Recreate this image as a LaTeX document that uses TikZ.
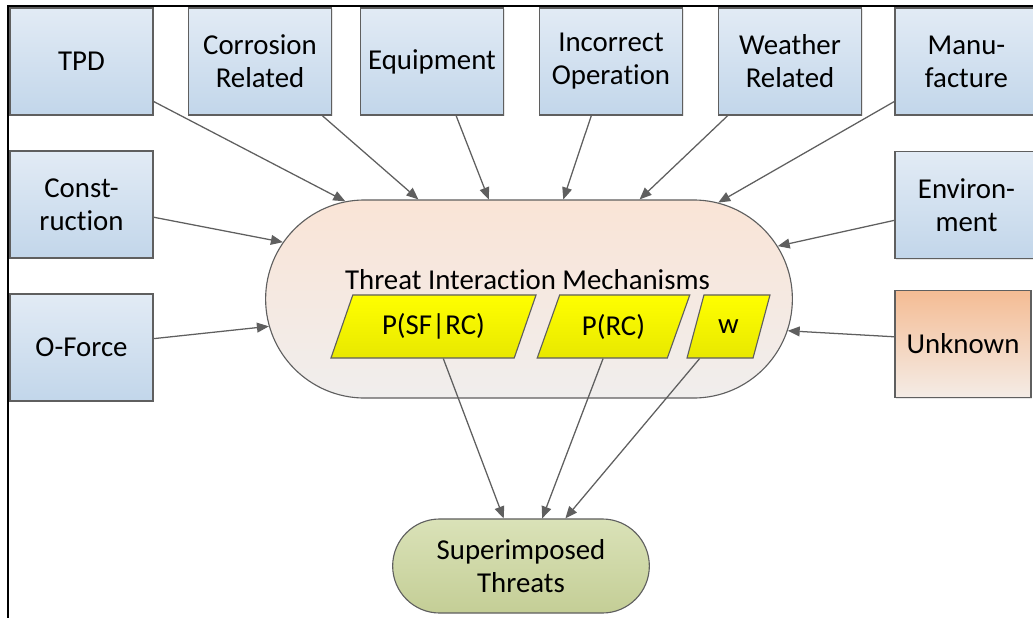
\documentclass[tikz,border=0pt]{standalone}
\usepackage{fontspec}
\setmainfont{Carlito}[Ligatures=NoCommon]
\usetikzlibrary{shapes.geometric,shapes.misc,arrows.meta,shadows}

\definecolor{boxtop}{RGB}{226,235,245}
\definecolor{boxbot}{RGB}{194,214,234}
\definecolor{unktop}{RGB}{244,188,148}
\definecolor{unkbot}{RGB}{244,236,230}
\definecolor{timtop}{RGB}{250,228,214}
\definecolor{timbot}{RGB}{240,238,237}
\definecolor{suptop}{RGB}{218,226,184}
\definecolor{supbot}{RGB}{196,206,150}
\definecolor{yeltop}{RGB}{255,255,0}
\definecolor{yelbot}{RGB}{232,232,0}
\definecolor{edgegray}{RGB}{95,95,95}

\begin{document}
\begin{tikzpicture}[x=0.025cm, y=-0.025cm,
    txt/.style={font=\fontsize{20.5}{23.5}\selectfont, align=center, text=black},
    threat/.style={txt, draw=edgegray, line width=0.8pt, top color=boxtop, bottom color=boxbot,
      minimum width=3.575cm, minimum height=2.675cm, inner sep=0pt,
      drop shadow={opacity=0.2, shadow xshift=0.8pt, shadow yshift=-0.8pt}},
    param/.style={txt, trapezium, trapezium left angle=65, trapezium right angle=115,
      trapezium stretches=true, draw=edgegray, line width=0.8pt, top color=yeltop, bottom color=yelbot,
      minimum height=1.575cm, inner sep=2pt},
    link/.style={draw=edgegray, line width=0.9pt, -{Triangle[length=8.5pt,width=7pt]}}]

		\useasboundingbox (0,0) rectangle (1033,618);
		\clip (0,0) rectangle (1033,618);
		\draw[line width=1.6pt] (8,618) -- (8,6) -- (1040,6);

		% causes, top row
		\node[threat] (tpd) at (81.5,61.5) {TPD};
		\node[threat] (corr) at (260,61.5) {Corrosion\\Related};
		\node[threat] (equip) at (432,61.5) {Equipment};
		\node[threat] (incop) at (611,61.5) {Incorrect\\Operation};
		\node[threat] (weath) at (790,61.5) {Weather\\Related};
		\node[threat] (manuf) at (966.5,61.5) {Manu-\\facture};

		% causes, sides
		\node[threat] (constr) at (81.5,204.5) {Const-\\ruction};
		\node[threat] (oforce) at (81.5,347.5) {O-Force};
		\node[threat] (envir) at (966.5,205) {Environ-\\ment};
		\node[threat, top color=unktop, bottom color=unkbot, minimum width=3.4cm] (unkn) at (963,344) {Unknown};

		% mechanisms
		\node[rounded rectangle, draw=edgegray, line width=0.8pt, top color=timtop, bottom color=timbot,
			minimum width=13.4cm, minimum height=4.95cm] (tim) at (529,299) {};
		\node[txt, anchor=base] (timlabel) at (527.5,289) {Threat Interaction Mechanisms};
		\node[param, minimum width=5.175cm] (psfrc) at (433.5,326.5) {P(SF|RC)};
		\node[param, minimum width=3.825cm] (prc) at (613.5,326.5) {P(RC)};
		\node[param, minimum width=2.075cm] (wgt) at (728.5,326.5) {w};

		\node[rounded rectangle, txt, draw=edgegray, line width=0.8pt, top color=suptop, bottom color=supbot,
			minimum width=6.65cm, minimum height=2.35cm] (super) at (521,566) {Superimposed\\Threats};

		\draw[link] (tpd.-29.5) -- (tim.152);
		\draw[link] (corr.-41.7) -- (tim.138.5);
		\draw[link] (equip.-66.7) -- (tim.112.6);
		\draw[link] (incop.250.4) -- (tim.71.4);
		\draw[link] (weath.221.7) -- (tim.42.3);
		\draw[link] (manuf.209.6) -- (tim.27.8);
		\draw[link] (constr.-10.7) -- (tim.167.8);
		\draw[link] (oforce.7.6) -- (tim.186.1);
		\draw[link] (envir.192.3) -- (tim.12.4);
		\draw[link] (unkn.174.2) -- (tim.353.9);

		\draw[link] (psfrc.-73) -- (super.110.6);
		\draw[link] (prc.-108) -- (super.66.4);
		\draw[link] (wgt.-132) -- (super.47.5);

	\end{tikzpicture}
\end{document}
